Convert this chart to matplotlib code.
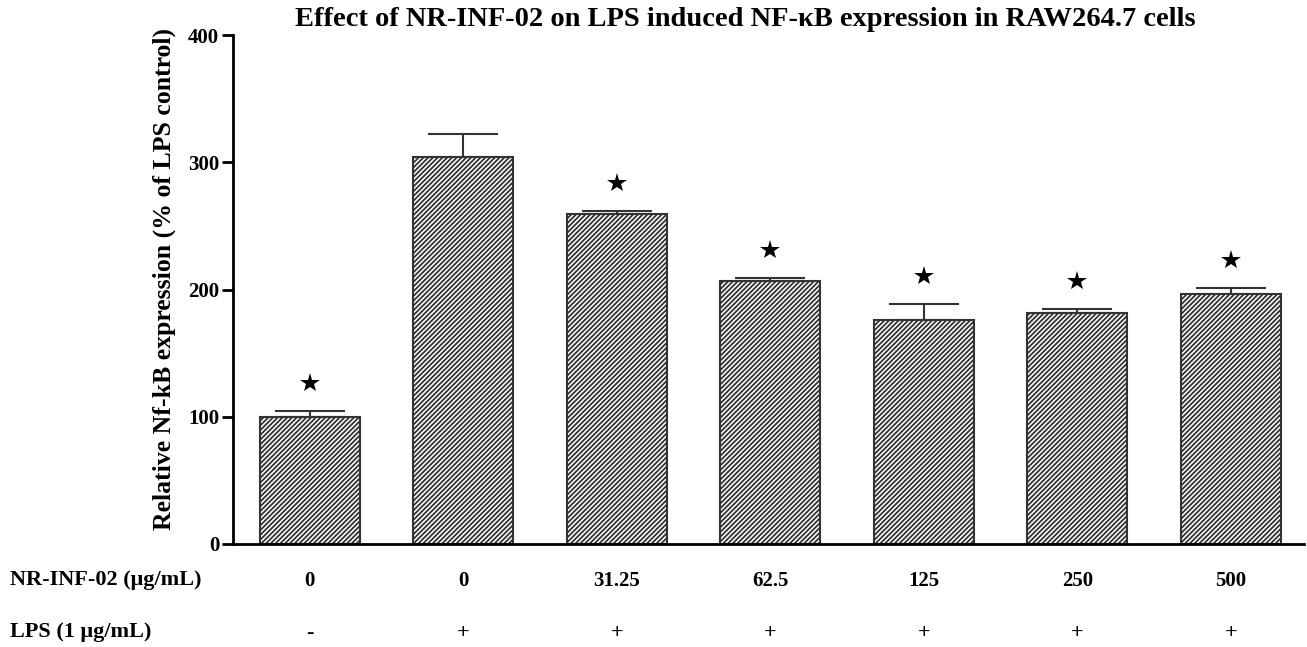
import matplotlib
matplotlib.use('Agg')
import matplotlib.pyplot as plt

# data
doses = ['0', '0', '31.25', '62.5', '125', '250', '500']
lps = ['-', '+', '+', '+', '+', '+', '+']
means = [100, 304, 259, 207, 176, 181.5, 196.5]
sems = [4.5, 18, 3, 2, 12.5, 3.2, 4.5]
significant = [True, False, True, True, True, True, True]

plt.rcParams['font.family'] = 'Liberation Serif'
plt.rcParams['font.weight'] = 'bold'
plt.rcParams['hatch.linewidth'] = 1.3
plt.rcParams['hatch.color'] = '#222222'

fig = plt.figure(figsize=(13.07, 6.47), dpi=100)
ax = fig.add_axes([0.1783, 0.1592, 0.8197, 0.7867])

x = list(range(len(means)))
ax.bar(x, means, width=0.65, color='white', edgecolor='#333333',
       linewidth=1.5, hatch='///////', zorder=2)
ax.errorbar(x, means, yerr=[[0] * len(sems), sems], fmt='none',
            ecolor='#333333', elinewidth=1.5, capsize=25, capthick=1.5, zorder=1)

for i in x:
    if significant[i]:
        ax.plot(i, means[i] + sems[i] + 22, marker='*', color='black',
                markersize=15, markeredgewidth=0, linestyle='none')

ax.set_xlim(-0.5, 6.48)
ax.set_ylim(0, 400)
ax.set_yticks([0, 100, 200, 300, 400])
ax.tick_params(axis='y', direction='out', length=8, width=2, labelsize=15, pad=2)
ax.tick_params(axis='x', length=0, labelbottom=False)
for s in ['top', 'right']:
    ax.spines[s].set_visible(False)
ax.spines['left'].set_linewidth(2)
ax.spines['bottom'].set_linewidth(2)

ax.set_ylabel('Relative Nf-kB expression (% of LPS control)', fontsize=18.5,
              fontweight='bold')
ax.yaxis.set_label_coords(-0.053, 0.52)
fig.text(745 / 1307, 1 - 20 / 647,
         'Effect of NR-INF-02 on LPS induced NF-κB expression in RAW264.7 cells',
         ha='center', va='center', fontsize=20.5, fontweight='bold')

# condition rows under the axis
trans = ax.get_xaxis_transform()
for i in x:
    ax.text(i, -0.072, doses[i], transform=trans, ha='center', va='center',
            fontsize=15, fontweight='bold')
    ax.text(i, -0.174, lps[i], transform=trans, ha='center', va='center',
            fontsize=16, fontweight='bold')
fig.text(10 / 1307, 1 - 580 / 647, 'NR-INF-02 (μg/mL)', ha='left', va='center',
         fontsize=16, fontweight='bold')
fig.text(10 / 1307, 1 - 632 / 647, 'LPS (1 μg/mL)', ha='left', va='center',
         fontsize=16, fontweight='bold')

fig.savefig('out.png', dpi=100)
